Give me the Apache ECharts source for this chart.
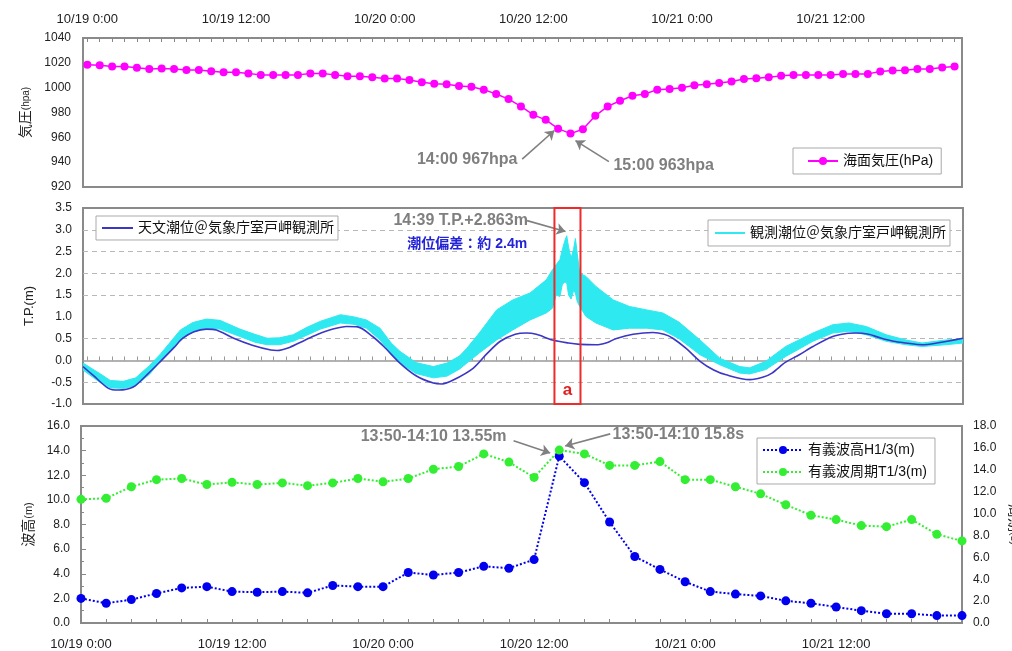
<!DOCTYPE html>
<html>
<head>
<meta charset="utf-8">
<script src="https://cdn.jsdelivr.net/npm/echarts@6/dist/echarts.min.js"></script>
<style>
  html, body { margin: 0; padding: 0; background: #fff; }
  #chart { width: 1012px; height: 651px; }
</style>
</head>
<body>
<div id="chart"></div>
<script>
// Time axis: hours elapsed since 10/19 0:00
const labelHours = [0, 12, 24, 36, 48, 60];
const timeLabels = ['10/19 0:00', '10/19 12:00', '10/20 0:00', '10/20 12:00', '10/21 0:00', '10/21 12:00'];

// Sea-level pressure (hPa), hourly
const pressureHours = [0, 1, 2, 3, 4, 5, 6, 7, 8, 9, 10, 11, 12, 13, 14, 15, 16, 17, 18, 19,
  20, 21, 22, 23, 24, 25, 26, 27, 28, 29, 30, 31, 32, 33, 34, 35, 36, 37, 38, 39,
  40, 41, 42, 43, 44, 45, 46, 47, 48, 49, 50, 51, 52, 53, 54, 55, 56, 57, 58, 59,
  60, 61, 62, 63, 64, 65, 66, 67, 68, 69, 70];
const pressure = [1018.4, 1018.1, 1017.0, 1017.0, 1016.0, 1015.1, 1015.4, 1015.1, 1014.3, 1014.3,
  1013.2, 1012.4, 1012.4, 1011.4, 1010.3, 1010.3, 1010.3, 1010.3, 1011.4, 1011.4,
  1010.3, 1009.2, 1009.2, 1008.4, 1007.3, 1007.3, 1006.2, 1004.3, 1003.2, 1002.7,
  1001.4, 1000.8, 998.4, 994.9, 990.8, 984.9, 978.1, 974.1, 967, 963,
  966.5, 977.3, 984.9, 989.5, 993.5, 994.9, 998.4, 998.9, 1000.0, 1001.9,
  1002.7, 1003.8, 1004.9, 1007.0, 1007.6, 1008.4, 1009.5, 1010.3, 1010.3, 1010.3,
  1010.3, 1011.1, 1011.1, 1011.1, 1013.0, 1013.8, 1014.1, 1015.1, 1015.1, 1016.2,
  1017.0];

// Astronomical tide (T.P. m)
const tideAstroHours = [-0.35, 0.5, 1.7, 2.5, 3.7, 4.8, 5.9, 7.0, 7.7, 8.6, 9.6, 10.4, 11.8, 13.3, 14.8,
  15.3, 16.3, 17.5, 18.5, 19.8, 20.9, 21.8, 23.0, 23.9, 25.2, 26.5, 27.9, 28.6, 29.5, 31.1,
  32.2, 33.3, 34.5, 35.4, 36.2, 37.5, 38.8, 39.7, 41.0, 42.0, 42.6, 44.0, 45.6, 46.5, 47.2,
  48.3, 49.4, 50.5, 51.5, 53.4, 54.5, 55.2, 56.3, 57.4, 58.5, 60.1, 61.2, 62.0, 63.0, 63.8,
  65.0, 66.0, 67.3, 68.5, 70.6];
const tideAstro = [-0.14, -0.35, -0.64, -0.68, -0.61, -0.33, -0.02, 0.30, 0.51, 0.66, 0.72, 0.70, 0.51, 0.35, 0.24,
  0.23, 0.30, 0.46, 0.59, 0.72, 0.78, 0.77, 0.55, 0.32, -0.06, -0.35, -0.52, -0.54, -0.45, -0.18,
  0.15, 0.44, 0.60, 0.63, 0.60, 0.47, 0.40, 0.37, 0.36, 0.42, 0.50, 0.60, 0.64, 0.60, 0.51,
  0.27, -0.02, -0.22, -0.33, -0.44, -0.38, -0.29, -0.04, 0.13, 0.32, 0.55, 0.62, 0.63, 0.60, 0.53,
  0.44, 0.40, 0.36, 0.40, 0.51];

// Observed tide (T.P. m): lower and upper edge of the fluctuating record
const tideObsHours = [-0.35, 1, 1.85, 2.9, 3.9, 5, 5.9, 7.5, 8.5, 9.6, 10.7, 12.3, 13.5, 14.5, 15.5,
  16.6, 17.7, 18.8, 20.4, 21.5, 22.5, 23.6, 24.5, 25.2, 26.5, 27.9, 29, 30, 30.6, 31.6,
  33, 34.3, 35.7, 37, 37.5, 37.8, 38.1, 38.3, 38.5, 38.65, 38.8, 39.0, 39.2, 39.35, 39.5,
  39.7, 40.2, 41, 42.4, 43.7, 45.1, 46.4, 47.7, 49.4, 51, 52.6, 53.4, 54.7, 56.3, 58.5,
  60.1, 61.4, 62.8, 64.4, 66, 67.3, 69.2, 70.6];
const tideObsLow = [-0.22, -0.50, -0.63, -0.64, -0.58, -0.32, -0.02, 0.47, 0.65, 0.74, 0.72, 0.55, 0.42, 0.36, 0.36,
  0.44, 0.58, 0.72, 0.86, 0.83, 0.74, 0.47, 0.15, -0.06, -0.30, -0.40, -0.36, -0.20, -0.06, 0.17,
  0.47, 0.70, 0.93, 1.09, 1.20, 1.50, 1.47, 1.75, 1.80, 1.78, 1.50, 1.41, 1.60, 1.55, 1.35,
  1.24, 1.01, 0.86, 0.70, 0.74, 0.74, 0.70, 0.50, 0.13, -0.10, -0.29, -0.31, -0.21, 0.09, 0.44,
  0.63, 0.67, 0.59, 0.44, 0.36, 0.32, 0.36, 0.40];
const tideObsHigh = [-0.06, -0.30, -0.46, -0.48, -0.40, -0.12, 0.15, 0.70, 0.87, 0.95, 0.92, 0.72, 0.60, 0.51, 0.52,
  0.59, 0.76, 0.90, 1.05, 1.00, 0.93, 0.74, 0.40, 0.21, -0.05, -0.14, -0.06, 0.10, 0.28, 0.63,
  1.16, 1.39, 1.55, 1.85, 2.08, 2.20, 2.31, 2.55, 2.75, 2.863, 2.60, 2.35, 2.55, 2.80, 2.45,
  2.00, 1.93, 1.70, 1.39, 1.24, 1.16, 1.09, 0.88, 0.47, 0.05, -0.14, -0.17, -0.02, 0.32, 0.63,
  0.82, 0.86, 0.78, 0.59, 0.47, 0.40, 0.47, 0.49];
// Dashed reference levels of the tide panel
const tideGridLevels = [3.0, 2.5, 2.0, 1.5, 0.5, -0.5];

// Significant wave height (m) and period (s), every 2 hours
const waveHours = [0, 2, 4, 6, 8, 10, 12, 14, 16, 18, 20, 22, 24, 26, 28, 30, 32, 34,
  36, 38, 40, 42, 44, 46, 48, 50, 52, 54, 56, 58, 60, 62, 64, 66, 68, 70];
const waveHeight = [2.0, 1.6, 1.9, 2.4, 2.85, 2.95, 2.55, 2.5, 2.55, 2.45, 3.05, 2.95, 2.95, 4.1, 3.9, 4.1, 4.6, 4.45,
  5.15, 13.55, 11.4, 8.2, 5.4, 4.35, 3.35, 2.55, 2.35, 2.2, 1.8, 1.6, 1.3, 1.0, 0.75, 0.75, 0.6, 0.6];
const wavePeriod = [11.3, 11.4, 12.45, 13.1, 13.2, 12.65, 12.85, 12.65, 12.8, 12.55, 12.8, 13.2, 12.9, 13.2, 14.05, 14.3, 15.45, 14.7,
  13.3, 15.8, 15.45, 14.4, 14.4, 14.75, 13.1, 13.1, 12.45, 11.8, 10.8, 9.85, 9.45, 8.9, 8.8, 9.45, 8.1, 7.5];

const zip = (xs, ys) => xs.map((x, i) => [x, ys[i]]);
const hourTicks = [];
for (let h = 0; h <= 70; h += 1) hourTicks.push(h);
const twoHourTicks = hourTicks.filter(h => h % 2 === 0);
const timeFormatter = v => timeLabels[labelHours.indexOf(Math.round(v))] || '';

const FONT = "'Liberation Sans', 'Noto Sans CJK JP', sans-serif";
const NOTE_GREY = '#7f7f7f';
const CYAN = '#2ee9ef';
const ASTRO_BLUE = '#3b36c4';

// Observed-tide band: one polygon, upper edge left→right then lower edge right→left
const obsBandData = tideObsHours.map((h, i) => [h, tideObsLow[i], tideObsHigh[i]]);
function renderObsBand(params, api) {
  if (params.dataIndex !== 0) return null;
  const upper = obsBandData.map(d => api.coord([d[0], d[2]]));
  const lower = obsBandData.map(d => api.coord([d[0], d[1]])).reverse();
  return {
    type: 'polygon',
    shape: { points: upper.concat(lower) },
    style: { fill: CYAN, stroke: CYAN, lineWidth: 1 }
  };
}

const noteLabel = (text, position, extra) => Object.assign({
  show: true, formatter: text, position: position, distance: 0,
  color: NOTE_GREY, fontSize: 16, fontWeight: 'bold', fontFamily: FONT
}, extra || {});
const notePoint = (coord, text, position, extra) => ({
  coord: coord, symbol: 'circle', symbolSize: 1,
  itemStyle: { color: 'rgba(0,0,0,0)' },
  label: noteLabel(text, position, extra)
});
const arrowStyle = {
  silent: true, symbol: ['none', 'arrow'], symbolSize: 9,
  lineStyle: { color: '#808080', width: 1.6, type: 'solid' },
  label: { show: false }
};
const gridBox = { show: true, borderColor: '#8a8a8a', borderWidth: 2, backgroundColor: '#fff', outerBoundsMode: 'none', containLabel: false };
const axisText = { fontSize: 12, color: '#222', fontFamily: FONT };
const legendBox = { borderColor: '#aaa', borderWidth: 1, backgroundColor: '#fff', textStyle: { fontSize: 14, color: '#111' } };

const chart = echarts.init(document.getElementById('chart'), null, { renderer: 'canvas' });
chart.setOption({
  animation: false,
  backgroundColor: '#fff',
  textStyle: { fontFamily: FONT },
  grid: [
    Object.assign({ left: 83, top: 38, width: 879, height: 149 }, gridBox),
    Object.assign({ left: 83, top: 208, width: 880, height: 196 }, gridBox),
    Object.assign({ left: 81, top: 426, width: 881, height: 197 }, gridBox)
  ],
  legend: [
    Object.assign({
      data: ['海面気圧(hPa)'], left: 793, top: 148,
      padding: [6, 8, 6, 14], itemWidth: 30, itemHeight: 10
    }, legendBox),
    Object.assign({
      data: [{ name: '天文潮位＠気象庁室戸岬観測所', icon: 'rect' }], left: 96, top: 216,
      padding: [5, 4, 5, 6], itemWidth: 31, itemHeight: 2
    }, legendBox),
    Object.assign({
      data: [{ name: '観測潮位＠気象庁室戸岬観測所', icon: 'rect' }], left: 708, top: 220,
      padding: [6, 4, 6, 7], itemWidth: 30, itemHeight: 2
    }, legendBox),
    Object.assign({
      data: ['有義波高H1/3(m)', '有義波周期T1/3(m)'], left: 757, top: 438, orient: 'vertical',
      padding: [5, 8, 5, 5], itemWidth: 40, itemHeight: 10, itemGap: 8
    }, legendBox)
  ],
  xAxis: [
    {
      type: 'value', gridIndex: 0, position: 'top', min: -0.35, max: 70.6,
      axisLine: { show: false }, splitLine: { show: false },
      axisTick: { show: true, inside: true, length: 4, customValues: hourTicks, lineStyle: { color: '#888' } },
      axisLabel: Object.assign({ customValues: labelHours, formatter: timeFormatter, margin: 12 }, axisText, { fontSize: 13 })
    },
    {
      type: 'value', gridIndex: 1, min: -0.35, max: 70.6,
      axisLine: { show: true, onZero: true, lineStyle: { color: '#999', width: 1.5 } },
      splitLine: { show: false },
      axisTick: { show: true, inside: true, length: 4, customValues: hourTicks, lineStyle: { color: '#999' } },
      axisLabel: { show: false }
    },
    {
      type: 'value', gridIndex: 2, position: 'bottom', min: 0, max: 70,
      axisLine: { show: false }, splitLine: { show: false },
      axisTick: { show: true, inside: true, length: 4, customValues: twoHourTicks, lineStyle: { color: '#888' } },
      axisLabel: Object.assign({ customValues: labelHours, formatter: timeFormatter, margin: 15 }, axisText, { fontSize: 13 })
    }
  ],
  yAxis: [
    {
      type: 'value', gridIndex: 0, min: 920, max: 1040, interval: 20,
      axisLine: { show: false }, axisTick: { show: false }, splitLine: { show: false },
      axisLabel: Object.assign({ margin: 12, formatter: v => String(v) }, axisText),
      name: '{a|気圧}{b|(hpa)}', nameLocation: 'middle', nameGap: 50,
      nameTextStyle: { color: '#222', rich: { a: { fontSize: 14, color: '#222' }, b: { fontSize: 10, color: '#222' } } }
    },
    {
      type: 'value', gridIndex: 1, min: -1.0, max: 3.5, interval: 0.5,
      axisLine: { show: false }, axisTick: { show: false }, splitLine: { show: false },
      axisLabel: Object.assign({ margin: 11, formatter: v => v.toFixed(1) }, axisText),
      name: 'T.P.(m)', nameLocation: 'middle', nameGap: 47,
      nameTextStyle: { fontSize: 13, color: '#222' }
    },
    {
      type: 'value', gridIndex: 2, min: 0, max: 16, interval: 2,
      axisLine: { show: false }, splitLine: { show: false },
      axisTick: { show: true, inside: true, length: 5, lineStyle: { color: '#888' } },
      minorTick: { show: true, splitNumber: 2, length: 3, lineStyle: { color: '#888' } },
      axisLabel: Object.assign({ margin: 11, formatter: v => v.toFixed(1) }, axisText),
      name: '{a|波高}{b|(m)}', nameLocation: 'middle', nameGap: 43,
      nameTextStyle: { rich: { a: { fontSize: 14, color: '#222' }, b: { fontSize: 11, color: '#222' } } }
    },
    {
      type: 'value', gridIndex: 2, position: 'right', min: 0, max: 18, interval: 2,
      axisLine: { show: false }, axisTick: { show: false }, splitLine: { show: false },
      axisLabel: Object.assign({ margin: 11, formatter: v => v.toFixed(1) }, axisText),
      name: '{a|周期}{b|(s)}', nameLocation: 'middle', nameGap: 36, nameRotate: -90,
      nameTextStyle: { rich: { a: { fontSize: 14, color: '#222' }, b: { fontSize: 11, color: '#222' } } }
    }
  ],
  series: [
    {
      name: '海面気圧(hPa)', type: 'line', xAxisIndex: 0, yAxisIndex: 0,
      data: zip(pressureHours, pressure),
      symbol: 'circle', symbolSize: 8,
      itemStyle: { color: '#ff00ff' }, lineStyle: { color: '#ff00ff', width: 1.5 },
      markPoint: {
        silent: true,
        data: [
          notePoint([34.76, 941.8], '14:00 967hpa', 'left'),
          notePoint([42.42, 937.0], '15:00 963hpa', 'right')
        ]
      },
      markLine: Object.assign({
        data: [
          [{ coord: [35.1, 942.4] }, { coord: [37.7, 965.5] }],
          [{ coord: [42.1, 940.4] }, { coord: [39.4, 957.4] }]
        ]
      }, arrowStyle)
    },
    {
      name: '観測潮位＠気象庁室戸岬観測所', type: 'custom', xAxisIndex: 1, yAxisIndex: 1,
      data: obsBandData, renderItem: renderObsBand, clip: true,
      encode: { x: 0, y: [1, 2] },
      itemStyle: { color: CYAN }, z: 2,
      markLine: {
        silent: true, z: 1, symbol: ['none', 'none'], label: { show: false },
        lineStyle: { color: '#b8b8b8', width: 1, type: [5, 4] },
        data: tideGridLevels.map(v => ({ yAxis: v }))
      }
    },
    {
      name: '天文潮位＠気象庁室戸岬観測所', type: 'line', xAxisIndex: 1, yAxisIndex: 1,
      data: zip(tideAstroHours, tideAstro), smooth: 0.3, z: 3,
      symbol: 'none', itemStyle: { color: ASTRO_BLUE }, lineStyle: { color: ASTRO_BLUE, width: 1.6 },
      markArea: {
        silent: true, z: 6,
        itemStyle: { color: 'rgba(0,0,0,0)', borderColor: '#ee2a2a', borderWidth: 2 },
        label: { show: true, position: 'insideBottom', distance: 6, formatter: 'a', color: '#e02020', fontSize: 17, fontWeight: 'bold' },
        data: [[{ xAxis: 37.66 }, { xAxis: 39.76 }]]
      },
      markPoint: {
        silent: true,
        data: [
          notePoint([35.56, 3.21], '14:39 T.P.+2.863m', 'left'),
          notePoint([35.5, 2.68], '潮位偏差：約 2.4m', 'left', { color: '#2323d8', fontSize: 14 })
        ]
      },
      markLine: Object.assign({
        data: [[{ coord: [35.45, 3.21] }, { coord: [38.55, 2.96] }]]
      }, arrowStyle)
    },
    {
      name: '有義波高H1/3(m)', type: 'line', xAxisIndex: 2, yAxisIndex: 2,
      data: zip(waveHours, waveHeight),
      symbol: 'circle', symbolSize: 9,
      itemStyle: { color: '#0000ee' }, lineStyle: { color: '#0000ee', width: 2, type: 'dotted' },
      markPoint: {
        silent: true,
        data: [
          notePoint([33.85, 15.1], '13:50-14:10 13.55m', 'left'),
          notePoint([42.19, 15.28], '13:50-14:10 15.8s', 'right')
        ]
      },
      markLine: Object.assign({
        data: [
          [{ coord: [34.37, 14.8] }, { coord: [37.28, 13.8] }],
          [{ coord: [42.05, 15.36] }, { coord: [38.47, 14.38] }]
        ]
      }, arrowStyle)
    },
    {
      name: '有義波周期T1/3(m)', type: 'line', xAxisIndex: 2, yAxisIndex: 3,
      data: zip(waveHours, wavePeriod),
      symbol: 'circle', symbolSize: 9,
      itemStyle: { color: '#33ee33' }, lineStyle: { color: '#33ee33', width: 2, type: 'dotted' }
    }
  ]
});
</script>
</body>
</html>
